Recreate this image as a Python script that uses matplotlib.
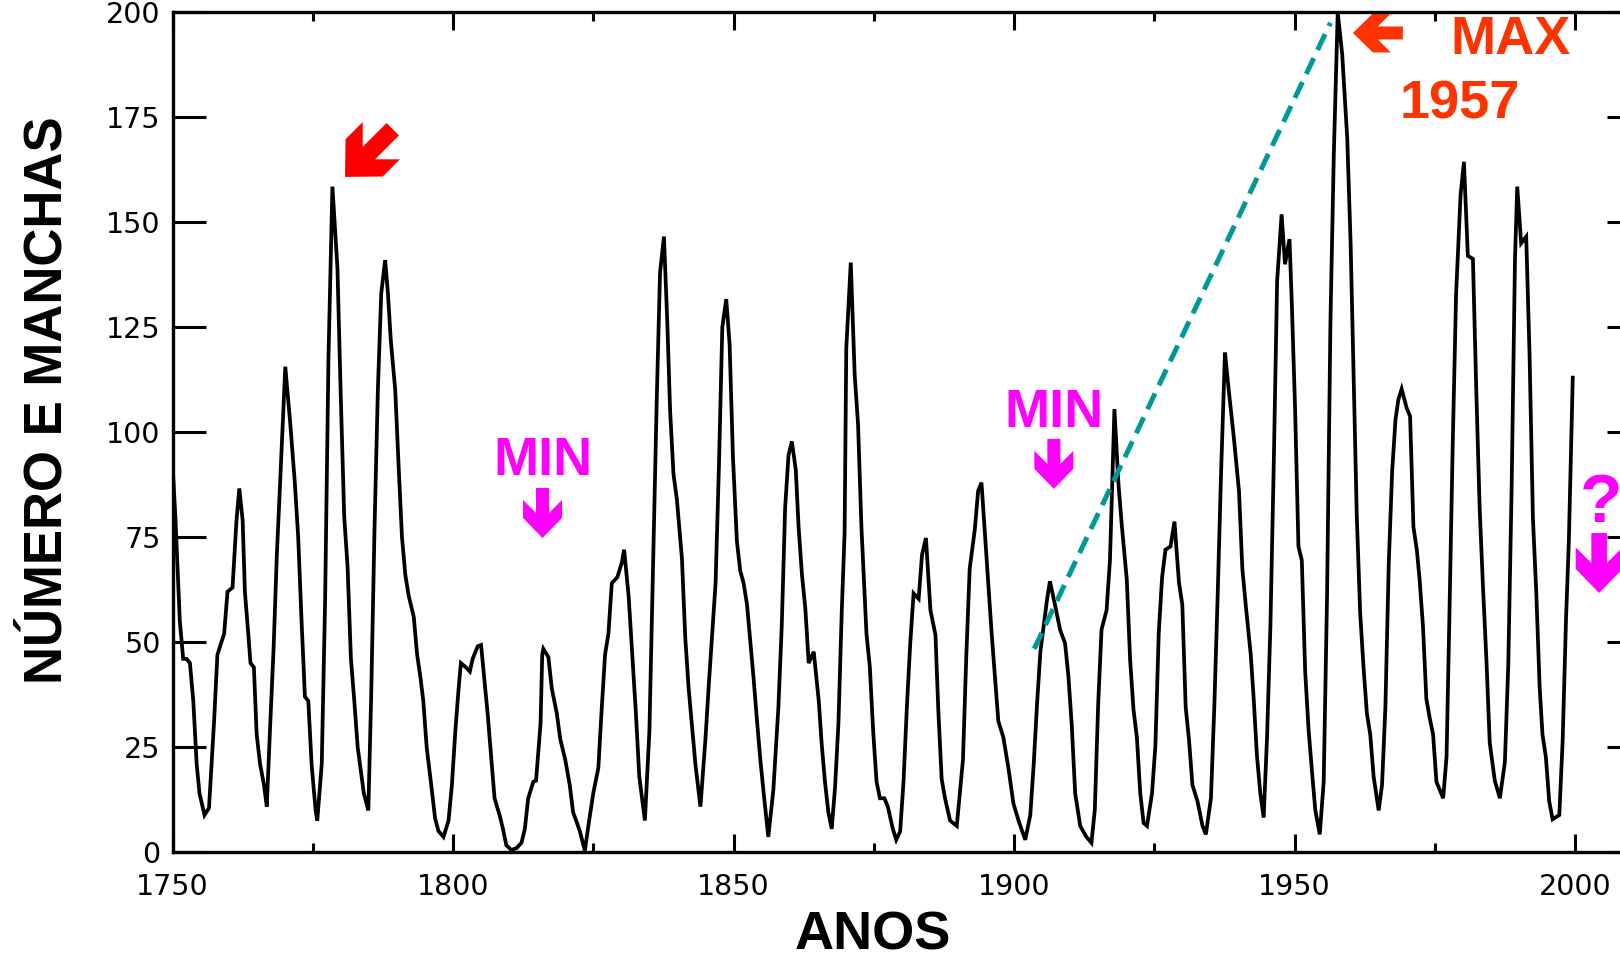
# Numero de manchas solares 1750-2000 (recriacao do grafico)
import numpy as np
import matplotlib
matplotlib.use('Agg')
import matplotlib.pyplot as plt
from matplotlib.patches import Polygon
from matplotlib.transforms import Affine2D, ScaledTranslation

# ----- Dados -----
anos = [
    1750.0, 1750.5, 1751.3, 1751.9, 1752.5, 1753.1, 1753.7, 1754.3, 1754.8, 1755.7,
    1756.5, 1757.4, 1758.0, 1759.2, 1759.8, 1760.7, 1761.4, 1761.9, 1762.5, 1762.9,
    1763.5, 1763.9, 1764.5, 1765.0, 1765.6, 1766.3, 1766.8, 1767.4, 1768.0, 1768.6,
    1769.2, 1770.1, 1771.0, 1771.8, 1772.4, 1773.0, 1773.6, 1774.2, 1774.8, 1775.5,
    1775.8, 1776.6, 1777.2, 1777.8, 1778.5, 1779.4, 1780.0, 1780.6, 1781.2, 1781.8,
    1782.4, 1783.0, 1783.5, 1784.1, 1784.9, 1785.4, 1786.0, 1786.6, 1787.2, 1787.9,
    1788.4, 1788.9, 1789.7, 1790.3, 1790.9, 1791.5, 1792.1, 1793.0, 1793.6, 1794.2,
    1794.7, 1795.3, 1796.2, 1796.8, 1797.4, 1798.3, 1799.2, 1799.8, 1800.4, 1801.0,
    1801.4, 1802.3, 1803.0, 1803.5, 1804.4, 1805.0, 1805.6, 1806.2, 1806.8, 1807.4,
    1808.3, 1808.9, 1809.5, 1810.4, 1811.3, 1812.2, 1812.8, 1813.4, 1814.3, 1814.8,
    1815.6, 1815.9, 1816.1, 1817.0, 1817.6, 1818.5, 1819.1, 1820.0, 1820.8, 1821.4,
    1822.6, 1823.5, 1824.1, 1825.0, 1825.9, 1826.5, 1827.1, 1827.7, 1828.3, 1829.3,
    1830.1, 1830.5, 1831.3, 1831.9, 1832.6, 1833.2, 1834.2, 1835.0, 1835.7, 1836.3,
    1836.9, 1837.6, 1838.2, 1838.7, 1839.3, 1839.9, 1840.8, 1841.4, 1842.0, 1842.6,
    1843.2, 1844.1, 1845.0, 1845.6, 1846.2, 1846.8, 1847.4, 1848.0, 1848.7, 1849.3,
    1849.9, 1850.6, 1851.2, 1851.8, 1852.4, 1853.0, 1853.6, 1854.2, 1854.8, 1855.4,
    1856.2, 1857.1, 1858.0, 1858.6, 1859.2, 1859.8, 1860.4, 1861.1, 1861.6, 1862.2,
    1862.8, 1863.4, 1864.3, 1865.2, 1865.7, 1866.3, 1866.9, 1867.5, 1868.1, 1868.7,
    1869.3, 1869.8, 1870.1, 1870.9, 1871.6, 1872.2, 1872.8, 1873.7, 1874.3, 1874.9,
    1875.5, 1876.1, 1876.9, 1877.5, 1878.4, 1879.0, 1879.7, 1880.3, 1880.9, 1881.5,
    1882.1, 1883.0, 1883.6, 1884.3, 1885.1, 1886.0, 1886.5, 1887.1, 1887.7, 1888.6,
    1889.8, 1890.9, 1891.5, 1892.1, 1893.0, 1893.6, 1894.2, 1894.8, 1895.4, 1896.0,
    1896.6, 1897.2, 1898.1, 1899.0, 1899.9, 1900.8, 1902.0, 1902.9, 1903.5, 1904.1,
    1904.7, 1905.9, 1906.4, 1907.3, 1908.2, 1909.1, 1909.7, 1910.3, 1910.9, 1911.8,
    1912.9, 1913.8, 1914.4, 1915.0, 1915.6, 1916.5, 1917.1, 1917.9, 1918.6, 1919.2,
    1920.1, 1920.7, 1921.3, 1921.9, 1922.5, 1923.1, 1923.7, 1924.6, 1925.2, 1925.8,
    1926.4, 1927.0, 1927.9, 1928.6, 1929.4, 1930.0, 1930.6, 1931.2, 1931.8, 1932.7,
    1933.6, 1934.2, 1935.1, 1935.7, 1936.3, 1936.9, 1937.6, 1938.3, 1939.2, 1940.1,
    1940.7, 1941.3, 1942.2, 1942.7, 1943.3, 1943.9, 1944.5, 1945.1, 1945.7, 1946.3,
    1946.9, 1947.7, 1948.3, 1949.1, 1949.5, 1950.1, 1950.7, 1951.3, 1951.9, 1952.5,
    1953.1, 1953.7, 1954.5, 1955.2, 1955.8, 1956.4, 1957.0, 1957.7, 1958.5, 1959.4,
    1960.0, 1960.5, 1961.1, 1961.7, 1962.3, 1962.9, 1963.5, 1964.1, 1965.0, 1965.6,
    1966.2, 1966.8, 1967.4, 1968.0, 1968.5, 1969.1, 1970.0, 1970.6, 1971.2, 1971.8,
    1972.3, 1972.9, 1973.5, 1974.1, 1974.7, 1975.3, 1976.5, 1977.1, 1977.6, 1978.2,
    1978.8, 1979.6, 1980.2, 1980.9, 1981.8, 1982.4, 1983.0, 1983.6, 1984.2, 1984.8,
    1985.7, 1986.6, 1987.5, 1988.1, 1988.7, 1989.3, 1989.7, 1990.4, 1991.3, 1991.9,
    1992.5, 1993.1, 1993.7, 1994.2, 1994.8, 1995.4, 1996.0, 1997.2, 1997.8, 1998.4,
    1998.9, 1999.6,
]
manchas = [
    92.5, 80, 55, 46, 46, 45, 36, 21, 14, 8.8,
    10.5, 31, 47, 52, 62, 63, 79, 86.6, 79, 62,
    52, 45, 44, 28, 21, 16, 10.8, 30, 48, 71,
    88.6, 115.6, 101.8, 88, 75, 55, 37, 36, 20.7, 10,
    7.5, 21, 60, 118, 158.5, 139, 108, 80, 68, 46,
    36, 25, 20, 14, 9.9, 36.5, 76.7, 110, 133, 141,
    133, 122, 110, 92, 75, 66, 61, 56, 47, 41.5,
    36, 25, 15, 8, 5, 3.6, 7.5, 16, 28.6, 39,
    45, 44, 43, 46, 49, 49.3, 41, 32.5, 22.7, 12.8,
    8.8, 5.5, 1.6, 0.5, 0.9, 2.2, 5.5, 12.8, 16.7, 17,
    30.6, 47, 48.4, 46.4, 39, 33, 27, 22, 16, 9.5,
    5, 0.3, 6, 14, 20, 34, 47, 52, 64, 65.5,
    69, 72, 61, 48, 33, 18, 7.5, 28.6, 71, 107,
    138, 146.6, 126, 105, 90, 84, 70, 51, 39, 30,
    21, 10.8, 27, 40, 52, 64, 92, 125, 131.7, 121,
    94, 74, 67, 64, 59, 50, 41, 31, 21.7, 13.7,
    3.6, 14.8, 34.5, 54, 82, 94.5, 97.8, 91, 77.4, 66,
    58, 45, 47.7, 35.9, 26, 16.7, 9.5, 5.5, 15.4, 30.6,
    57.6, 76, 120, 140.4, 113.6, 101.8, 77.4, 52, 44, 28.6,
    16.7, 12.8, 12.8, 10.8, 5.5, 2.9, 4.9, 16.7, 34.5, 49.7,
    61.6, 60.3, 70.8, 74.8, 57.6, 51.7, 33.9, 17.4, 12.8, 7.5,
    6.2, 22, 47, 67.5, 76.7, 86, 88, 76, 64.2, 52.3,
    41.8, 31.2, 27.3, 20, 11.5, 7.5, 2.9, 8.8, 20.7, 35.2,
    47.7, 60.3, 64.5, 58.9, 53, 49.7, 41.8, 30, 14, 6.2,
    3.6, 2.2, 10, 35.2, 53, 57.6, 69.5, 105.5, 88, 78,
    64.9, 45.7, 33.9, 27.3, 14, 6.9, 6.2, 14, 25.3, 52.3,
    65.5, 72, 72.8, 78.7, 64.2, 58.9, 34.5, 26.6, 16, 12.1,
    6.2, 4.2, 12.8, 34.5, 61, 90, 119, 109.7, 98.5, 86,
    67.5, 58.9, 47, 37, 23, 14, 8.2, 27.3, 53.7, 92.5,
    136, 151.9, 140, 146, 131.4, 105.7, 72.8, 69.5, 43, 29.3,
    19.4, 10, 4.2, 16.7, 61, 126, 166, 200, 190, 170,
    145, 115, 80, 57, 44, 33, 28, 18, 9.9, 16,
    34.5, 68.8, 90.6, 103, 107.7, 110.3, 105.7, 103.8, 77.4, 72,
    64.9, 53.7, 36.5, 31.9, 28, 16.7, 12.8, 22.7, 55.6, 97,
    132.8, 156.5, 164.4, 142, 141.3, 110, 82, 63, 46, 26,
    17, 12.8, 21.4, 44.4, 86.6, 141.3, 158.5, 145, 146.6, 118.3,
    79.4, 61.6, 39.2, 28, 22.7, 12.1, 7.8, 8.8, 26.6, 55.6,
    74, 113,
]

# linha de tendencia (tracejada)
tend_anos = [1903.6, 1956.4]
tend_valores = [48.4, 197.5]

x_ticks = [1750, 1800, 1850, 1900, 1950, 2000]
y_ticks = [0, 25, 50, 75, 100, 125, 150, 175, 200]

# ----- Figura -----
fig = plt.figure(figsize=(16.2, 9.6), dpi=100)
ax = fig.add_axes([0.1065, 0.1125, 0.9059, 0.8746])

ax.plot(anos, manchas, color='black', lw=2.7, solid_joinstyle='miter')
ax.plot(tend_anos, tend_valores, color='#009999', lw=3.6, linestyle=(0, (3.5, 1.8)))

ax.set_xlim(1750, 2011.6)
ax.set_ylim(0, 200)

ax.set_xticks(x_ticks)
ax.set_xticks(np.arange(1775, 2011, 50), minor=True)
ax.set_yticks(y_ticks)
ax.tick_params(axis='x', which='major', direction='in', top=True, length=13, width=2.2,
               pad=15, labelsize=20.5)
ax.tick_params(axis='x', which='minor', direction='in', top=True, length=6.5, width=2.2)
ax.tick_params(axis='y', which='major', direction='in', right=True, length=23.8, width=2.2,
               pad=8.5, labelsize=20.5)
for s in ax.spines.values():
    s.set_linewidth(2.4)

bold = dict(family='Liberation Sans', weight='bold')
fig.text(0.0293, 0.583, 'NÚMERO E MANCHAS', rotation=90, ha='center', va='center',
         fontsize=38, **bold)
fig.text(0.539, 0.0, 'ANOS', ha='center', va='bottom', fontsize=39, **bold)


# setas (forma em pixels, ponta ancorada em coordenadas de dados)
seta = np.array([(-6.5, 50), (6.5, 50), (6.5, 25), (19.5, 38), (19.5, 20), (0, 0),
                 (-19.5, 20), (-19.5, 38), (-6.5, 25)])


def desenha_seta(x, y, angulo, escala, cor):
    tr = Affine2D().scale(escala).rotate_deg(angulo) + ScaledTranslation(x, y, ax.transData)
    ax.add_patch(Polygon(seta, closed=True, facecolor=cor, edgecolor='none',
                         transform=tr, clip_on=False))


desenha_seta(1780.75, 160.8, -45, 1.35, '#ff0000')
desenha_seta(1960.4, 195.1, -90, 1.0, '#ff3300')
desenha_seta(1815.95, 74.8, 0, 1.0, '#ff00ff')
desenha_seta(1907.1, 86.5, 0, 1.0, '#ff00ff')
desenha_seta(2004.3, 61.7, 0, 1.2, '#ff00ff')

ax.text(1988.6, 190.1, 'MAX', color='#ff3300', ha='center', va='baseline', fontsize=39,
        clip_on=False, **bold)
ax.text(1979.4, 174.8, '1957', color='#ff3300', ha='center', va='baseline', fontsize=39,
        clip_on=False, **bold)
ax.text(1815.95, 89.8, 'MIN', color='#ff00ff', ha='center', va='baseline', fontsize=39, **bold)
ax.text(1907.2, 101.2, 'MIN', color='#ff00ff', ha='center', va='baseline', fontsize=39, **bold)
ax.text(2004.6, 78.6, '?', color='#ff00ff', ha='center', va='baseline', fontsize=50,
        clip_on=False, **bold)

fig.savefig('out.png', dpi=100)
